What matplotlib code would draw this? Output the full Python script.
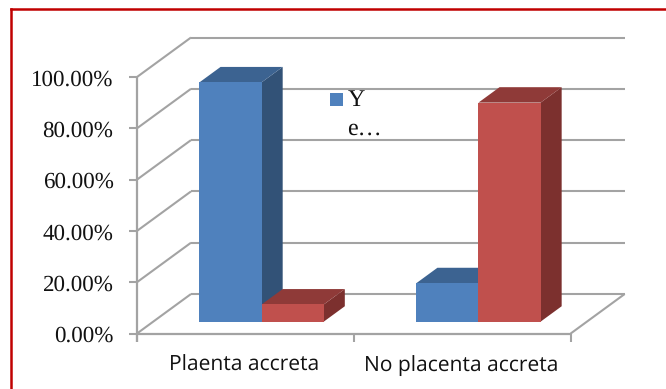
import matplotlib
matplotlib.use("Agg")
import matplotlib.pyplot as plt
from matplotlib.patches import Polygon, Rectangle
from matplotlib.lines import Line2D

plt.rcParams["text.hinting"] = "none"
plt.rcParams["text.hinting_factor"] = 1

categories = ["Plaenta accreta", "No placenta accreta"]
series_a = [93.3, 15.0]
series_b = [6.7, 85.4]
y_ticks = [0, 20, 40, 60, 80, 100]
y_labels = ["0.00%", "20.00%", "40.00%", "60.00%", "80.00%", "100.00%"]
legend_lines = ["Y", "e…"]

W, H = 666, 389
BLUE = ("#4f81bd", "#3c6391", "#325277")
RED = ("#c0504d", "#8f3a38", "#7c302e")
GRID = "#a3a3a3"
SERIF = "Liberation Serif"

fig = plt.figure(figsize=(W / 100, H / 100), dpi=100, facecolor="white")

# Front plane of the chart box, in pixels
left, right, bottom, top = 137.0, 570.7, 333.5, 77.0
ax = fig.add_axes([left / W, 1 - bottom / H, (right - left) / W, (bottom - top) / H])
ax.set_xlim(0, len(categories))
ax.set_ylim(0, 100)
ax.axis("off")

# Oblique depth vector of the box, in data units
x_per_px = len(categories) / (right - left)
y_per_px = 100 / (bottom - top)
depth_x = 54 * x_per_px
depth_y = 39.5 * y_per_px
tick_x = 8 * x_per_px
tick_y = 8 * y_per_px


def poly(points, color, z):
    ax.add_patch(Polygon(points, closed=True, facecolor=color, edgecolor="none",
                         zorder=z, clip_on=False))


def line(xs, ys, z=1, lw=1.5):
    ax.plot(xs, ys, color=GRID, lw=lw, solid_capstyle="butt", clip_on=False, zorder=z)


def bar3d(x0, width, value, colors, z):
    """Front, top and side faces of one oblique bar."""
    f0, f1 = 0.30, 0.69
    bx = x0 + depth_x * f0
    by = depth_y * f0
    dx = depth_x * (f1 - f0)
    dy = depth_y * (f1 - f0)
    poly([(bx + width, by), (bx + width + dx, by + dy),
          (bx + width + dx, by + value + dy), (bx + width, by + value)], colors[2], z)
    poly([(bx, by + value), (bx + dx, by + value + dy),
          (bx + width + dx, by + value + dy), (bx + width, by + value)], colors[1], z)
    ax.bar(bx, value, width=width, bottom=by, align="edge", color=colors[0],
           edgecolor="none", zorder=z + 0.1, clip_on=False)


# Wall gridlines, floor edges and axes
for v in y_ticks:
    line([0, depth_x], [v, v + depth_y])
    line([depth_x, len(categories) + depth_x], [v + depth_y, v + depth_y])
    line([-tick_x, 0], [v, v], z=1.5)
line([0, len(categories)], [0, 0], z=2, lw=1.6)
line([len(categories), len(categories) + depth_x], [0, depth_y], z=1)
line([0, 0], [-tick_y, 100], z=1.5, lw=1.6)
for i in range(len(categories) + 1):
    line([i, i], [-tick_y, 0], z=1.5)

# Blue sits left of red in every group
bar_w = 0.2865
gap = 0.2135
for i, (a, b) in enumerate(zip(series_a, series_b)):
    bar3d(i + gap, bar_w, a, BLUE, 3 + i)
    bar3d(i + gap + bar_w, bar_w, b, RED, 3.5 + i)

# Tick labels
for v, lab in zip(y_ticks, y_labels):
    ax.annotate(lab, xy=(0, v), xycoords="data", xytext=(-23.5 * 0.72, -3 * 0.72),
                textcoords="offset points", ha="right", va="center",
                family=SERIF, fontsize=16.4, color="#111111", annotation_clip=False)
for i, lab in enumerate(categories):
    ax.annotate(lab, xy=(i + 0.5, 0), xycoords="data", xytext=(-1 * 0.72, -32 * 0.72),
                textcoords="offset points", ha="center", va="center",
                family="Open Sans", fontsize=15.0, color="#111111", annotation_clip=False)

# Legend key with its clipped label
fig.add_artist(Rectangle((330 / W, 1 - 106 / H), 12.5 / W, 13 / H,
                         transform=fig.transFigure, facecolor=BLUE[0], edgecolor="none"))
for text, baseline in zip(legend_lines, [106.5, 135]):
    fig.text(347.5 / W, 1 - baseline / H, text, family=SERIF, fontsize=17.5,
             color="#111111", ha="left", va="baseline")

# Red rules along the top and left of the chart
for xs, ys in [((11, W), (9, 9)), ((11, 11), (9, H))]:
    fig.add_artist(Line2D([x / W for x in xs], [1 - y / H for y in ys],
                          transform=fig.transFigure, color="#c00000", linewidth=1.8,
                          solid_capstyle="projecting"))

fig.savefig("out.png", dpi=100, facecolor="white")
